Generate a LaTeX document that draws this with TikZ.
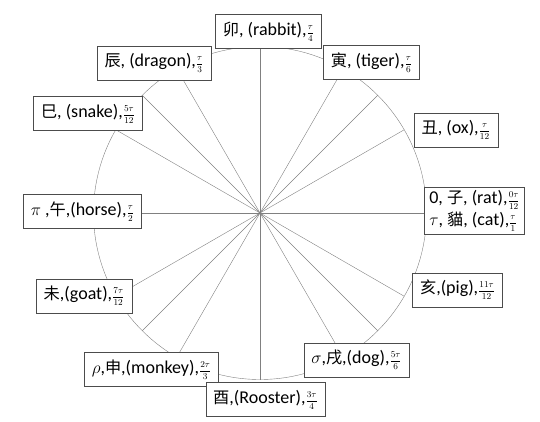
\documentclass[tikz,border=0pt]{standalone}
\usepackage{amsmath}
\usepackage{fontspec}
\setmainfont{Carlito}
\newfontfamily\cjk[Scale=0.9]{Noto Sans CJK SC}
\newcommand{\angfrac}[2]{{\fontsize{9}{10}\selectfont$\displaystyle\frac{#1}{#2}$}}

\tikzset{
  animal/.style={draw=black!70, fill=white, thin, inner xsep=7.5pt, inner ysep=3pt,
    minimum height=34pt, font=\fontsize{18}{21}\selectfont},
  spoke/.style={draw=black!50, thin}
}

\begin{document}
\begin{tikzpicture}[x=1pt,y=-1pt]
    \useasboundingbox (0,0) rectangle (540,422);

    % the wheel and its spokes
    \node[circle, draw=black!50, thin, minimum size=333pt, inner sep=0pt, outer sep=0pt] (wheel) at (260,213) {};
    \foreach \a in {0,30,45,60,90,120,135,150,180,210,225,240,270,300,315,330}
        \draw[spoke] (wheel.center) -- (wheel.\a);

    % upper half
    \node[animal] (rabbit) at (268.5,31.5) {{\cjk 卯}, (rabbit),\angfrac{\tau}{4}};
    \node[animal] (tiger) at (371.5,62.5) {{\cjk 寅}, (tiger),\angfrac{\tau}{6}};
    \node[animal] (dragon) at (154,63) {{\cjk 辰}, (dragon),\angfrac{\tau}{3}};
    \node[animal] (snake) at (88,113.5) {{\cjk 巳}, (snake),\angfrac{5\tau}{12}};
    \node[animal] (ox) at (456,130) {{\cjk 丑}, (ox),\angfrac{\tau}{12}};

    % horizontal
    \node[animal, align=left, inner xsep=5pt] (rat) at (474.5,210.5) {0, {\cjk 子}, (rat),\angfrac{0\tau}{12}\\[1pt] $\tau$, {\cjk 貓}, (cat),\angfrac{\tau}{1}};
    \node[animal] (horse) at (82.5,211.5) {$\pi$ ,{\cjk 午},(horse),\angfrac{\tau}{2}};

    % lower half
    \node[animal] (goat) at (84,296) {{\cjk 未},(goat),\angfrac{7\tau}{12}};
    \node[animal] (pig) at (457.5,290) {{\cjk 亥},(pig),\angfrac{11\tau}{12}};
    \node[animal] (monkey) at (151.5,369.5) {$\rho$,{\cjk 申},(monkey),\angfrac{2\tau}{3}};
    \node[animal] (dog) at (356.5,360) {$\sigma$,{\cjk 戌},(dog),\angfrac{5\tau}{6}};
    \node[animal] (rooster) at (265.5,399.5) {{\cjk 酉},(Rooster),\angfrac{3\tau}{4}};

\end{tikzpicture}
\end{document}
